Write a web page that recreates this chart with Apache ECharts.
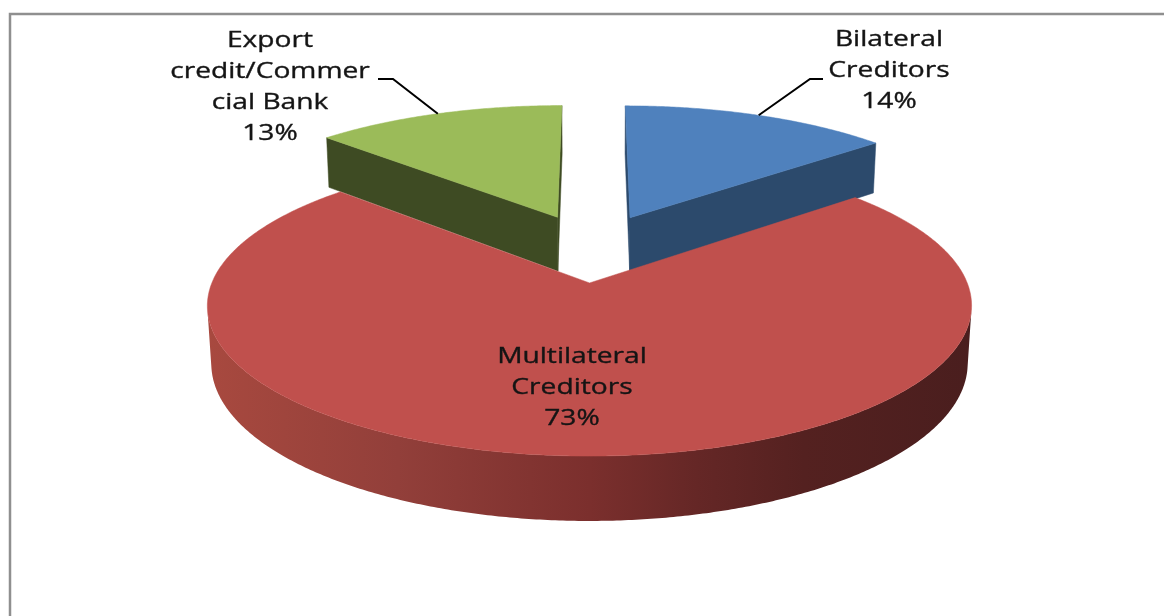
<!DOCTYPE html>
<html>
<head>
<meta charset="utf-8">
<script src="https://cdn.jsdelivr.net/npm/echarts@6/dist/echarts.min.js"></script>
<style>html,body{margin:0;padding:0;background:#fff;}#chart{width:1164px;height:616px;}</style>
</head>
<body>
<div id="chart"></div>
<script>
// ---- data ----
const categories = ['Bilateral Creditors', 'Multilateral Creditors', 'Export credit/Commercial Bank'];
const labelLines = [['Bilateral', 'Creditors'], ['Multilateral', 'Creditors'], ['Export', 'credit/Commer', 'cial Bank']];
const values = [14, 73, 13];

// ---- styles ----
const topColors = ['#4F81BD', '#C0504D', '#9BBB59'];
const faceColors = ['#2C4A6C', '#5a2423', '#3E4B23'];
const labelPos = [[889, 71], [572, 388], [270, 87]];
const leaderElbow = [[[823, 79], [810, 79]], null, [[378, 79], [393, 79]]];

// ---- 3D projection params ----
const PHI = 22 * Math.PI / 180, S = Math.sin(PHI), C = Math.cos(PHI);
const D = 6.34, F = 2307, CX0 = 592.5, CY0 = 247.6;
const EXPLODE = 0.25, H = 0.165;
const CAM = [0, D * S, -D * C];

function proj(X, Y, Z) {
  const w = D + Z * C - Y * S;
  return [CX0 + F * X / w, CY0 - F * (Z * S + Y * C) / w];
}
const rad = d => d * Math.PI / 180;

const total = values.reduce((a, b) => a + b, 0);
const starts = [];
(function () { let acc = 0; values.forEach(v => { starts.push(acc / total * 360); acc += v; }); })();

function renderItem(params, api) {
  const i = params.dataIndex;
  const v = api.value(0);
  const a0 = starts[i], a1 = a0 + v / total * 360;
  const mid = rad((a0 + a1) / 2);
  const cx = EXPLODE * Math.sin(mid), cz = EXPLODE * Math.cos(mid);
  const base = -cz * 100;
  const pt = (deg, y) => proj(cx + Math.sin(rad(deg)), y, cz + Math.cos(rad(deg)));
  const children = [];

  // radial faces
  [[a0, a0 - 90], [a1, a1 + 90]].forEach(([ang, nAng]) => {
    const nx = Math.sin(rad(nAng)), nz = Math.cos(rad(nAng));
    const vis = (CAM[0] - cx) * nx + (CAM[2] - cz) * nz;
    if (vis > 0) {
      children.push({
        type: 'polygon', z2: base + 1,
        shape: { points: [proj(cx, 0, cz), pt(ang, 0), pt(ang, -H), proj(cx, -H, cz)] },
        style: { fill: faceColors[i], stroke: faceColors[i], lineWidth: 0.5 }
      });
    }
  });

  // outer side (visible range)
  const visAngles = [];
  for (let d = a0; d <= a1 + 1e-9; d += 0.5) {
    const t = rad(d);
    const vis = -cx * Math.sin(t) - 1 - (D * C + cz) * Math.cos(t);
    if (vis > 0) visAngles.push(d);
  }
  if (visAngles.length > 1) {
    const topArc = visAngles.map(d => pt(d, 0));
    const botArc = visAngles.slice().reverse().map(d => pt(d, -H));
    children.push({
      type: 'polygon', z2: base + 2,
      shape: { points: topArc.concat(botArc) },
      style: {
        fill: new echarts.graphic.LinearGradient(207, 0, 972, 0, [
          { offset: 0, color: '#a8493f' },
          { offset: 0.25, color: '#923f3a' },
          { offset: 0.5, color: '#7b2f2d' },
          { offset: 0.64, color: '#652726' },
          { offset: 0.78, color: '#542120' },
          { offset: 1, color: '#4a1e1e' }
        ], true)
      }
    });
  }

  // top face
  const topPts = [proj(cx, 0, cz)];
  for (let d = a0; d < a1; d += 0.5) topPts.push(pt(d, 0));
  topPts.push(pt(a1, 0));
  children.push({
    type: 'polygon', z2: base + 3,
    shape: { points: topPts },
    style: { fill: topColors[i], stroke: topColors[i], lineWidth: 0.5 }
  });

  // label
  const pct = Math.round(v / total * 100) + '%';
  children.push({
    type: 'text', z2: 200, x: labelPos[i][0], y: labelPos[i][1], scaleX: 1.28,
    style: {
      text: labelLines[i].concat([pct]).join('\n'),
      fill: '#141414', font: '22px "Open Sans"',
      stroke: '#141414', lineWidth: 0.35,
      align: 'center', verticalAlign: 'middle', textAlign: 'center', textVerticalAlign: 'middle',
      lineHeight: 31
    }
  });
  if (leaderElbow[i]) {
    const end = pt((a0 + a1) / 2, 0);
    children.push({
      type: 'polyline', z2: 150,
      shape: { points: [leaderElbow[i][0], leaderElbow[i][1], end] },
      style: { stroke: '#000', lineWidth: 2, fill: null }
    });
  }
  return { type: 'group', children: children };
}

const chart = echarts.init(document.getElementById('chart'), null, { renderer: 'canvas' });
chart.setOption({
  animation: false,
  backgroundColor: '#ffffff',
  graphic: [{
    type: 'rect', silent: true, z: -10,
    shape: { x: 10, y: 14, width: 1300, height: 800 },
    style: { fill: null, stroke: '#8f8f8f', lineWidth: 2.5 }
  }],
  series: [{
    type: 'custom',
    name: 'Debt by creditor',
    coordinateSystem: 'none',
    data: values.map((v, i) => ({ name: categories[i], value: v })),
    renderItem: renderItem
  }]
});
</script>
</body>
</html>
